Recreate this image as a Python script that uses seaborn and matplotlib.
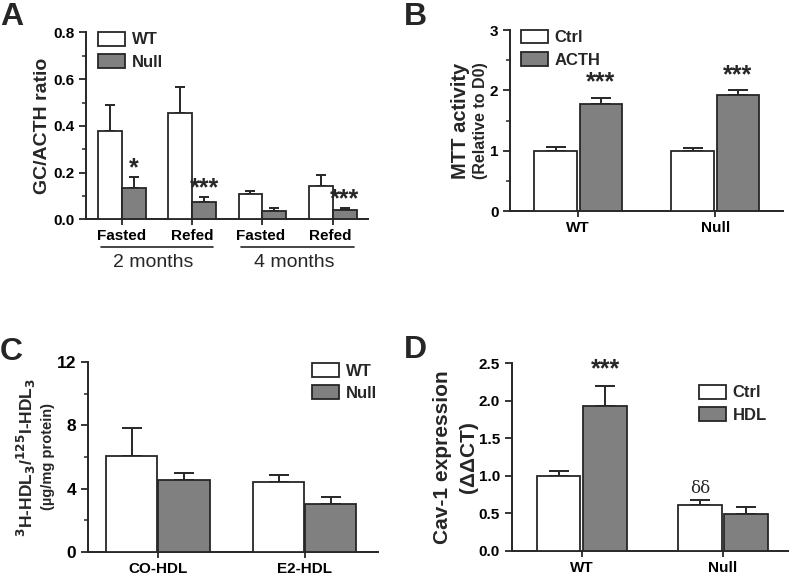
import matplotlib
matplotlib.use("Agg")
import matplotlib.pyplot as plt
import matplotlib.transforms as mtransforms
from matplotlib.ticker import MultipleLocator, FormatStrFormatter
import numpy as np
import pandas as pd
import seaborn as sns

# Panel A: GC/ACTH ratio
A_CONDITIONS = ["Fasted", "Refed", "Fasted ", "Refed "]
A_WT = [0.376, 0.457, 0.106, 0.141]
A_WT_ERR = [0.113, 0.109, 0.017, 0.050]
A_NULL = [0.134, 0.073, 0.037, 0.041]
A_NULL_ERR = [0.046, 0.021, 0.012, 0.007]
A_STARS_NULL = ["*", "***", "", "***"]
A_AGE_GROUPS = ["2 months", "4 months"]

# Panel B: MTT activity
B_GENOTYPES = ["WT", "Null"]
B_CTRL = [1.00, 1.00]
B_CTRL_ERR = [0.07, 0.04]
B_ACTH = [1.78, 1.92]
B_ACTH_ERR = [0.09, 0.08]
B_STARS_ACTH = ["***", "***"]

# Panel C: HDL uptake
C_PARTICLES = ["CO-HDL", "E2-HDL"]
C_WT = [6.07, 4.39]
C_WT_ERR = [1.76, 0.46]
C_NULL = [4.53, 3.06]
C_NULL_ERR = [0.46, 0.42]

# Panel D: Cav-1 expression
D_GENOTYPES = ["WT", "Null"]
D_CTRL = [1.00, 0.615]
D_CTRL_ERR = [0.06, 0.06]
D_HDL = [1.93, 0.49]
D_HDL_ERR = [0.27, 0.10]
D_MARKS_CTRL = ["", "δδ"]
D_STARS_HDL = ["***", ""]

GRAY = "#808080"
EDGE = "#262626"
FONT = ["Liberation Sans", "DejaVu Sans"]

sns.set_style("ticks")
plt.rcParams["font.family"] = FONT
plt.rcParams["font.weight"] = "bold"
plt.rcParams["axes.linewidth"] = 1.4
plt.rcParams["axes.edgecolor"] = EDGE
plt.rcParams["xtick.color"] = EDGE
plt.rcParams["ytick.color"] = EDGE
plt.rcParams["xtick.labelcolor"] = "black"
plt.rcParams["ytick.labelcolor"] = "black"


def long_frame(cats, first, second, names):
    return pd.DataFrame(
        {
            "cat": list(cats) * 2,
            "value": list(first) + list(second),
            "grp": [names[0]] * len(cats) + [names[1]] * len(cats),
        }
    )


def draw_panel(ax, cats, first, first_err, second, second_err, names, width, gap, capsize):
    df = long_frame(cats, first, second, names)
    sns.barplot(
        data=df, x="cat", y="value", hue="grp", hue_order=names,
        palette=["white", GRAY], edgecolor=EDGE, linewidth=1.3,
        errorbar=None, width=width, gap=gap, ax=ax, zorder=3,
    )
    centres = []
    for container, errs in zip(ax.containers, [first_err, second_err]):
        xs = [p.get_x() + p.get_width() / 2 for p in container.patches]
        ys = [p.get_height() for p in container.patches]
        ax.errorbar(xs, ys, yerr=[np.zeros(len(errs)), errs], fmt="none",
                    ecolor=EDGE, elinewidth=1.4, capsize=capsize, capthick=1.4, zorder=2)
        centres.append((xs, ys))
    sns.despine(ax=ax)
    ax.set_xlabel("")
    ax.set_ylabel("")
    ax.tick_params(axis="both", which="major", length=5, width=1.3, labelsize=11)
    ax.tick_params(axis="y", which="minor", length=3, width=1.1)
    ax.tick_params(axis="x", which="major", length=4, pad=3)
    for lab in ax.get_xticklabels() + ax.get_yticklabels():
        lab.set_fontweight("bold")
    return centres


def style_legend(ax, **kw):
    handles, labels = ax.get_legend_handles_labels()
    leg = ax.legend(handles, labels, frameon=False, fontsize=12,
                    handlelength=1.6, handleheight=0.9, handletextpad=0.4,
                    labelspacing=0.4, borderaxespad=0.0, **kw)
    for t in leg.get_texts():
        t.set_fontweight("bold")
    return leg


def add_marks(ax, xs, ys, errs, marks, offset, size=18, family=None):
    for x, y, e, m in zip(xs, ys, errs, marks):
        if m:
            ax.text(x, y + e + offset, m, ha="center", va="bottom",
                    fontsize=size, fontweight="bold", family=family or FONT)


def side_label(ax, xfrac, text, size):
    ax.text(xfrac, 0.5, text, transform=ax.transAxes, rotation=90,
            ha="center", va="center", fontsize=size, fontweight="bold")


fig = plt.figure(figsize=(7.96, 5.8), dpi=100)

# ---- A ----
axA = fig.add_axes([0.108, 0.622, 0.354, 0.322])
cA = draw_panel(axA, A_CONDITIONS, A_WT, A_WT_ERR, A_NULL, A_NULL_ERR,
                ["WT", "Null"], 0.68, 0, 3.5)
axA.set_ylim(0, 0.8)
axA.set_xlim(-0.512, 3.5)
axA.yaxis.set_major_locator(MultipleLocator(0.2))
axA.yaxis.set_minor_locator(MultipleLocator(0.1))
axA.yaxis.set_major_formatter(FormatStrFormatter("%.1f"))
side_label(axA, -0.155, "GC/ACTH ratio", 14)
add_marks(axA, cA[1][0], cA[1][1], A_NULL_ERR, A_STARS_NULL, -0.012)
style_legend(axA, loc="upper left", bbox_to_anchor=(0.02, 1.04))
trA = mtransforms.blended_transform_factory(axA.transData, axA.transAxes)
for k, label in enumerate(A_AGE_GROUPS):
    lo, hi = 2 * k - 0.3, 2 * k + 1.3
    axA.plot([lo, hi], [-0.15, -0.15], transform=trA, color=EDGE, lw=1.2, clip_on=False)
    axA.text(2 * k + 0.45, -0.23, label, transform=trA, ha="center", va="center",
             fontsize=14, fontweight="normal")
fig.text(0.0, 0.971, "A", fontsize=23, fontweight="bold", va="center")

# ---- B ----
axB = fig.add_axes([0.641, 0.636, 0.343, 0.312])
cB = draw_panel(axB, B_GENOTYPES, B_CTRL, B_CTRL_ERR, B_ACTH, B_ACTH_ERR,
                ["Ctrl", "ACTH"], 0.66, 0.06, 7)
axB.set_ylim(0, 3)
axB.set_xlim(-0.496, 1.496)
axB.yaxis.set_major_locator(MultipleLocator(1))
axB.yaxis.set_minor_locator(MultipleLocator(0.5))
side_label(axB, -0.183, "MTT activity", 14.5)
side_label(axB, -0.11, "(Relative to D0)", 11.5)
add_marks(axB, cB[1][0], cB[1][1], B_ACTH_ERR, B_STARS_ACTH, 0.06)
style_legend(axB, loc="upper left", bbox_to_anchor=(0.015, 1.04))
fig.text(0.507, 0.971, "B", fontsize=23, fontweight="bold", va="center")

# ---- C ----
axC = fig.add_axes([0.1106, 0.0483, 0.364, 0.3276])
draw_panel(axC, C_PARTICLES, C_WT, C_WT_ERR, C_NULL, C_NULL_ERR,
           ["WT", "Null"], 0.71, 0.02, 7)
axC.set_ylim(0, 12)
axC.set_xlim(-0.476, 1.497)
axC.yaxis.set_major_locator(MultipleLocator(4))
axC.yaxis.set_minor_locator(MultipleLocator(2))
axC.tick_params(axis="y", labelsize=12.5)
side_label(axC, -0.214,
           r"$^{\mathbf{3}}$H-HDL$_{\mathbf{3}}$/$^{\mathbf{125}}$I-HDL$_{\mathbf{3}}$", 12.5)
side_label(axC, -0.138, "(µg/mg protein)", 10.5)
style_legend(axC, loc="upper right", bbox_to_anchor=(1.02, 1.03))
fig.text(0.0, 0.393, "C", fontsize=23, fontweight="bold", va="center")

# ---- D ----
axD = fig.add_axes([0.643, 0.05, 0.347, 0.324])
cD = draw_panel(axD, D_GENOTYPES, D_CTRL, D_CTRL_ERR, D_HDL, D_HDL_ERR,
                ["Ctrl", "HDL"], 0.66, 0.06, 7)
axD.set_ylim(0, 2.5)
axD.set_xlim(-0.496, 1.46)
axD.yaxis.set_major_locator(MultipleLocator(0.5))
axD.yaxis.set_major_formatter(FormatStrFormatter("%.1f"))
side_label(axD, -0.25, "Cav-1 expression", 15)
side_label(axD, -0.156, "(ΔΔCT)", 15)
add_marks(axD, cD[1][0], cD[1][1], D_HDL_ERR, D_STARS_HDL, 0.06)
for x, y, e, m in zip(cD[0][0], cD[0][1], D_CTRL_ERR, D_MARKS_CTRL):
    if m:
        axD.text(x, y + e + 0.05, m, ha="center", va="bottom", fontsize=12,
                 fontweight="normal", family=["DejaVu Serif", "Liberation Serif"])
style_legend(axD, loc="upper left", bbox_to_anchor=(0.655, 0.92))
fig.text(0.508, 0.397, "D", fontsize=23, fontweight="bold", va="center")

fig.savefig("out.png", dpi=100)
